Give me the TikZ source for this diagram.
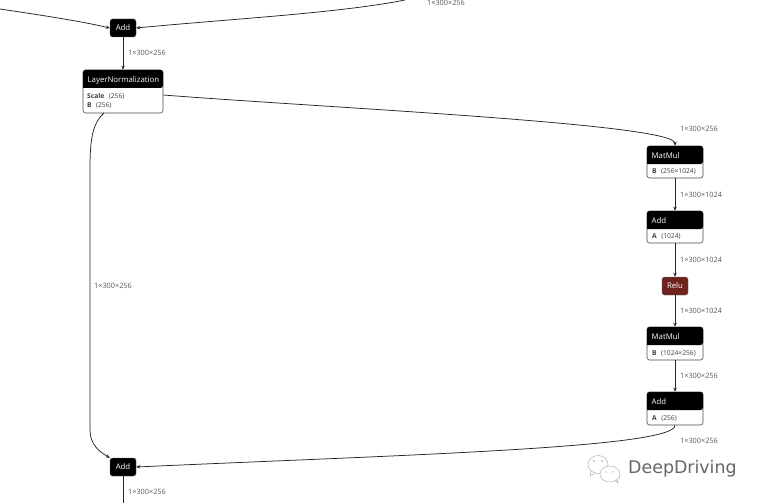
\documentclass[tikz,border=0pt]{standalone}
\usepackage{fontspec}
\setmainfont{Open Sans}
\newfontfamily\wmfont{DejaVu Sans}
\usetikzlibrary{arrows.meta}
\definecolor{reluc}{RGB}{110,35,28}
\tikzset{
  x=1pt,y=-1pt,
  edge/.style={draw=black!85,line width=0.75pt,-{Stealth[length=4pt,width=3.5pt]}},
  dim/.style={font=\fontsize{7.3}{8}\selectfont,text=black!65,anchor=west,inner sep=0pt},
  blackop/.style={fill=black,text=white,rounded corners=2.5pt,inner sep=0pt,font=\fontsize{7.8}{10}\selectfont,draw=black!60,line width=0.4pt},
  redop/.style={blackop,fill=reluc},
  body/.style={draw=black!70,fill=white,rounded corners=2.5pt,line width=0.6pt,inner sep=0pt},
  title/.style={text=white,font=\fontsize{7.8}{10}\selectfont,anchor=west,inner sep=0pt},
  attr/.style={font=\fontsize{6.7}{8}\selectfont,text=black!75,anchor=west,inner sep=0pt},
}
\newcommand{\attrtxt}[2]{\textbf{#1}\hspace{0.5em}\,(#2)}
% name, x0, y0, x1, y1, ymid, title
\newcommand{\blockop}[7]{%
  \node[body,minimum width=#4pt-#2pt,minimum height=#5pt-#3pt] (#1) at ({(#2+#4)/2},{(#3+#5)/2}) {};
  \fill[black,rounded corners=2.5pt] (#2,#6) -- (#2,#3) -- (#4,#3) -- (#4,#6) [sharp corners] -- cycle;
  \node[title] (#1t) at (#2+4.5,{(#3+#6)/2+1}) {#7};
}
\begin{document}
\begin{tikzpicture}
\useasboundingbox (0,0) rectangle (761,503);
\fill[white] (0,0) rectangle (761,503);

% simple operators
\node[blackop,minimum width=26pt,minimum height=18pt] (addtop) at (123,28) {Add};
\node[blackop,minimum width=26pt,minimum height=18pt] (addbot) at (123,467) {Add};
\node[redop,minimum width=26pt,minimum height=18pt] (relu) at (675,286) {Relu};

% blocks
\blockop{ln}{83}{70}{163}{113}{88}{LayerNormalization}
\node[attr] (lna) at (87,96) {\attrtxt{Scale}{256}};
\node[attr] (lnb) at (87,106) {\attrtxt{B}{256}};

\blockop{mm1}{647}{146}{703}{178}{164}{MatMul}
\node[attr] (mm1a) at (652,172) {\attrtxt{B}{256×1024}};

\blockop{add1}{647}{211}{703}{243}{229}{Add}
\node[attr] (add1a) at (652,237) {\attrtxt{A}{1024}};

\blockop{mm2}{647}{327}{703}{360}{345}{MatMul}
\node[attr] (mm2a) at (652,353.5) {\attrtxt{B}{1024×256}};

\blockop{add2}{647}{392}{703}{425}{410}{Add}
\node[attr] (add2a) at (652,418.5) {\attrtxt{A}{256}};

% free ends
\coordinate (inl) at (0,9);
\coordinate (inr) at (405,0);
\coordinate (botend) at (123,503);

% connectors
\draw[edge] (inl) .. controls (40,15) and (80,21) .. (addtop.west);
\draw[edge] (inr) .. controls (340,13) and (230,19) .. (addtop.east);
\draw[edge] (addtop) -- (ln.north -| addtop);
\draw[edge] (ln.east |- 0,95) .. controls (330,108) and (675,124) .. (mm1.north);
\draw[edge] (mm1) -- (add1);
\draw[edge] (add1) -- (relu);
\draw[edge] (relu) -- (mm2);
\draw[edge] (mm2) -- (add2);
\draw[edge] (add2.south) .. controls (675,448) and (400,455) .. (addbot.east);
\draw[edge] (104,113) .. controls (92,124) and (90,140) .. (90,170) -- (90,430) .. controls (90,445) and (100,452) .. (addbot.north west);
\draw[draw=black!85,line width=0.75pt] (addbot) -- (botend);

% dimension labels
\node[dim] (d0) at (427,3.2) {1×300×256};
\node[dim] (d1) at (128,53) {1×300×256};
\node[dim] (d2) at (94,285.7) {1×300×256};
\node[dim] (d3) at (680,129.2) {1×300×256};
\node[dim] (d4) at (680,194.7) {1×300×1024};
\node[dim] (d5) at (680,260.2) {1×300×1024};
\node[dim] (d6) at (680,311.2) {1×300×1024};
\node[dim] (d7) at (680,376.2) {1×300×256};
\node[dim] (d8) at (680,441.2) {1×300×256};
\node[dim] (d9) at (128,491.7) {1×300×256};

% watermark
\begin{scope}[draw=black!30,line width=0.5pt]
\draw (598,464.5) ellipse [x radius=10,y radius=9];
\draw[fill=white] (610,474) ellipse [x radius=10,y radius=8];
\draw (591,471) -- (590,476) -- (595,473);
\draw (615,480) -- (618,483) -- (617,479);
\fill[black!40] (594,461) circle (0.8) (602,461) circle (0.8) (606,472) circle (0.7) (613,472) circle (0.7);
\end{scope}
\node[font=\wmfont\fontsize{17.4}{18}\selectfont,text=black!60,anchor=west,inner sep=0pt] (wm) at (628,468.5) {DeepDriving};
\end{tikzpicture}
\end{document}
